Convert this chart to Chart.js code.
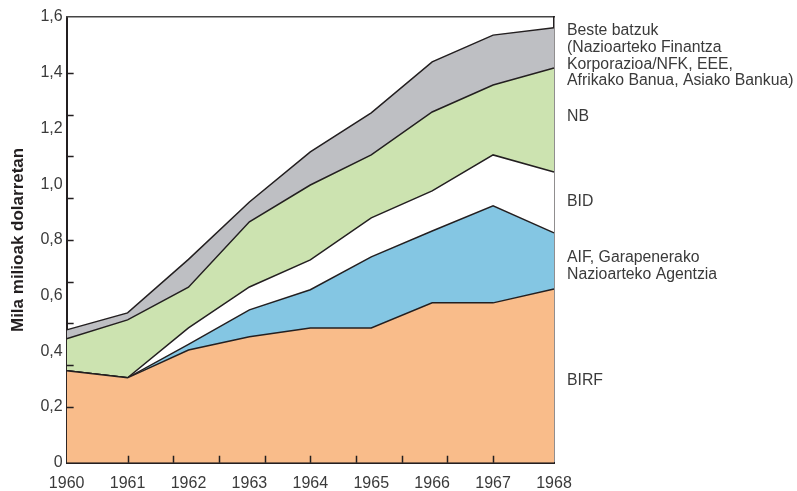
<!DOCTYPE html>
<html>
<head>
<meta charset="utf-8">
<script src="https://cdn.jsdelivr.net/npm/chart.js@4.4.1/dist/chart.umd.min.js"></script>
<style>
  html, body { margin: 0; padding: 0; background: #fff; }
  #wrap { width: 797px; height: 491px; }
</style>
</head>
<body>
<div id="wrap"><canvas id="fundsChart" width="797" height="491"></canvas></div>
<script>
// urteak eta serieak (mila milioi dolar, geruza bakoitzaren balioa)
const years = ['1960', '1961', '1962', '1963', '1964', '1965', '1966', '1967', '1968'];
const birf  = [0.330, 0.305, 0.405, 0.452, 0.484, 0.484, 0.574, 0.574, 0.624];
const aif   = [0.000, 0.000, 0.020, 0.097, 0.137, 0.255, 0.258, 0.348, 0.201];
const bid   = [0.000, 0.000, 0.059, 0.082, 0.107, 0.140, 0.144, 0.183, 0.219];
const nb    = [0.115, 0.208, 0.146, 0.234, 0.269, 0.226, 0.283, 0.251, 0.373];
const beste = [0.032, 0.025, 0.100, 0.071, 0.119, 0.151, 0.180, 0.179, 0.144];

// ardatzetako marka txikiak (barrurantz)
const xMinorTicks = [1961, 1961.75, 1962.5, 1963.25, 1964, 1964.75, 1965.5, 1966.25, 1967];
const yMinorTicks = [0.2, 0.35, 0.5, 0.65, 0.8, 0.95, 1.1, 1.25, 1.4];

// eskuineko etiketak
const seriesLabels = [
  ['Beste batzuk', '(Nazioarteko Finantza', 'Korporazioa/NFK, EEE,', 'Afrikako Banua, Asiako Bankua)'],
  ['NB'],
  ['BID'],
  ['AIF, Garapenerako', 'Nazioarteko Agentzia'],
  ['BIRF']
];

const LINE = '#231f20';
const TEXT = '#3a3a3a';
const FONT = '"Liberation Sans", Arial, Helvetica, sans-serif';

function layer(label, data, color, fill) {
  return {
    label: label,
    data: data,
    backgroundColor: color,
    borderColor: LINE,
    borderWidth: 1.5,
    pointRadius: 0,
    tension: 0,
    fill: fill
  };
}

// marka txikiak eta eskuineko testuak
const extrasPlugin = {
  id: 'extras',
  afterDraw(chart) {
    const { ctx, chartArea, scales } = chart;
    ctx.save();
    ctx.strokeStyle = LINE;
    ctx.lineWidth = 1.5;
    ctx.beginPath();
    xMinorTicks.forEach(v => {
      const px = Math.round(scales.x.getPixelForValue(v - 1960)) + 0.5;
      ctx.moveTo(px, chartArea.bottom);
      ctx.lineTo(px, chartArea.bottom - 7);
    });
    yMinorTicks.forEach(v => {
      const py = Math.round(scales.y.getPixelForValue(v)) + 0.5;
      ctx.moveTo(chartArea.left, py);
      ctx.lineTo(chartArea.left + 7, py);
    });
    ctx.stroke();

    ctx.fillStyle = TEXT;
    ctx.font = '15.8px ' + FONT;
    ctx.textBaseline = 'middle';
    ctx.textAlign = 'left';
    const tops = [31, 117, 202, 258, 381];
    seriesLabels.forEach((lines, i) => {
      lines.forEach((t, j) => ctx.fillText(t, chartArea.right + 13, tops[i] + j * 16.6));
    });
    ctx.restore();
  }
};

const canvas = document.getElementById('fundsChart');
new Chart(canvas.getContext('2d'), {
  type: 'line',
  data: {
    labels: years,
    datasets: [
      layer('BIRF', birf, '#f9bc8a', 'origin'),
      layer('AIF', aif, '#84c6e3', '-1'),
      layer('BID', bid, '#ffffff', '-1'),
      layer('NB', nb, '#cce3b0', '-1'),
      layer('Beste batzuk', beste, '#bebfc3', '-1')
    ]
  },
  options: {
    responsive: false,
    animation: false,
    layout: { padding: { left: 4, right: 243, top: 17, bottom: -13 } },
    plugins: {
      legend: { display: false },
      tooltip: { enabled: false }
    },
    scales: {
      x: {
        offset: false,
        grid: { display: false, drawTicks: false },
        border: { display: true, color: LINE, width: 2 },
        ticks: {
          color: TEXT,
          font: { family: FONT, size: 16 },
          padding: 11,
          autoSkip: false,
          maxRotation: 0
        }
      },
      y: {
        stacked: true,
        min: 0,
        max: 1.6,
        grid: { display: false, drawTicks: false },
        border: { display: true, color: LINE, width: 2 },
        ticks: {
          stepSize: 0.2,
          color: TEXT,
          font: { family: FONT, size: 16 },
          padding: 4,
          callback: v => (v === 0 ? '0' : v.toFixed(1).replace('.', ','))
        },
        title: {
          display: true,
          text: 'Mila milioak dolarretan',
          color: LINE,
          font: { family: FONT, size: 17, weight: 'bold' },
          padding: { top: 4, bottom: 8 }
        }
      },
      xTop: {
        type: 'linear',
        position: 'top',
        min: 0,
        max: 1,
        grid: { display: false, drawTicks: false },
        border: { display: true, color: '#444', width: 1.5 },
        ticks: { display: false }
      },
      yRight: {
        type: 'linear',
        position: 'right',
        min: 0,
        max: 1,
        grid: { display: false, drawTicks: false },
        border: { display: true, color: LINE, width: 1.5 },
        ticks: { display: false }
      }
    }
  },
  plugins: [extrasPlugin]
});
</script>
</body>
</html>
